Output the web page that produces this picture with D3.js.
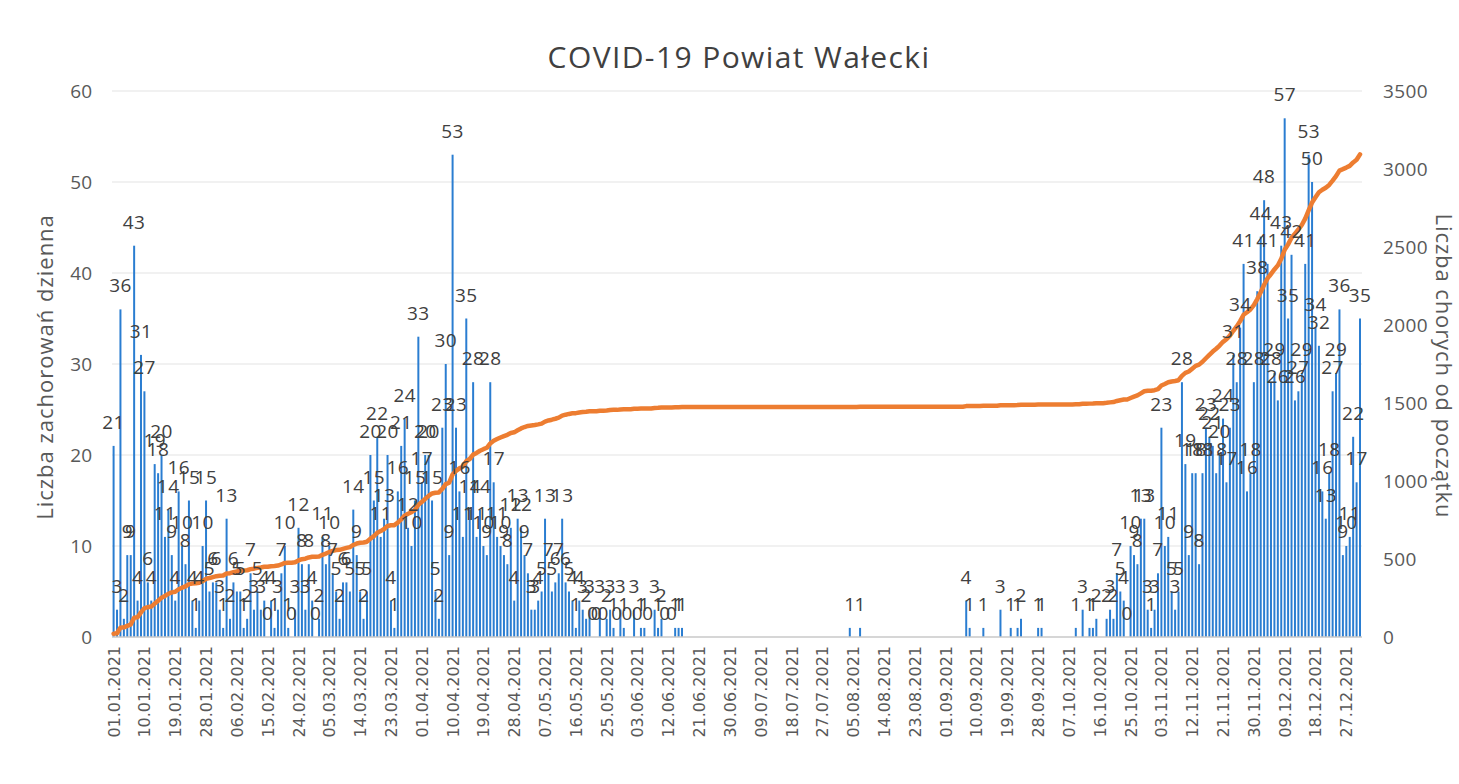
<!DOCTYPE html>
<html>
<head>
<meta charset="utf-8">
<script src="https://cdn.jsdelivr.net/npm/d3@7"></script>
<style>
  body { margin: 0; background: #fff; }
  svg { display: block; }
</style>
</head>
<body>
<svg id="chart" width="1459" height="784"></svg>
<script>
// daily new cases per month, null = no data that day
const _ = null;
const jan = [21, 3, 36, 2, 9, 9, 43, 4, 31, 27, 6, 4, 19, 18, 20, 11, 14, 9, 4, 16, 10, 8, 15, 4, 1, 4, 10, 15, 5, 6, 6];
const feb = [3, 1, 13, 2, 6, 5, 5, 1, 2, 7, 3, 5, 3, 4, 0, 4, 1, 3, 7, 10, 1, 0, 3, 12, 8, 3, 8, 4];
const mar = [0, 2, 11, 8, 10, 7, 5, 2, 6, 6, 5, 14, 9, 5, 2, 5, 20, 15, 22, 11, 13, 20, 4, 1, 16, 21, 24, 12, 10, 15, 33];
const apr = [17, 20, 20, 15, 5, 2, 23, 30, 9, 53, 23, 16, 11, 35, 14, 28, 11, 14, 10, 9, 28, 17, 11, 10, 9, 8, 12, 4, 13, 12];
const may = [9, 7, 3, 3, 4, 5, 13, 7, 5, 6, 7, 13, 6, 5, 4, 1, 4, 3, 2, 3, 0, 0, 3, 0, 2, 3, 1, 0, 3, 1, 0];
const jun = [_, 3, 0, 1, 1, 0, _, 3, 1, 2, 0, _, 0, 1, 1, 1, _, _, _, _, _, _, _, _, _, _, _, _, _, _];
const jul = [_, _, _, _, _, _, _, _, _, _, _, _, _, _, _, _, _, _, _, _, _, _, _, _, _, _, _, _, _, _, _];
const aug = [_, _, _, 1, _, _, 1, _, _, _, _, _, _, _, _, _, _, _, _, _, _, _, _, _, _, _, _, _, _, _, _];
const sep = [_, _, _, _, _, _, 4, 1, _, _, _, 1, _, _, _, _, 3, _, _, 1, _, 1, 2, _, _, _, _, 1, 1, _];
const oct = [_, _, _, _, _, _, _, _, 1, _, 3, _, 1, 1, 2, _, _, 2, 3, 2, 7, 5, 4, 0, 10, 9, 8, 13, 13, 3, 1];
const nov = [3, 7, 23, 10, 11, 5, 3, 5, 28, 19, 9, 18, 18, 8, 18, 23, 22, 21, 18, 20, 24, 17, 23, 31, 28, 34, 41, 16, 18, 28];
const dec = [38, 44, 48, 41, 28, 29, 26, 43, 57, 35, 42, 26, 27, 29, 41, 53, 50, 34, 32, 16, 13, 18, 27, 29, 36, 9, 10, 11, 22, 17, 35];

const leftTicks = [0, 10, 20, 30, 40, 50, 60];
const rightTicks = [0, 500, 1000, 1500, 2000, 2500, 3000, 3500];

const title = "COVID-19 Powiat Wałecki";
const leftTitle = "Liczba zachorowań dzienna";
const rightTitle = "Liczba chorych od początku";

const daily = [jan, feb, mar, apr, may, jun, jul, aug, sep, oct, nov, dec].flat();
const days = d3.timeDays(new Date(2021, 0, 1), new Date(2022, 0, 1));
const fmt = d3.timeFormat("%d.%m.%Y");
const cumulative = Array.from(d3.cumsum(daily, v => v == null ? 0 : v));

const svg = d3.select("#chart");
const textColor = "#404040";
const font = "Open Sans, sans-serif";

const x = d3.scaleBand()
  .domain(d3.range(days.length))
  .range([112.6, 1361])
  .paddingInner(0.42);

const yL = d3.scaleLinear().domain([0, 60]).range([637, 91]);
const yR = d3.scaleLinear().domain([0, 3500]).range([637, 91]);

// gridlines
svg.append("g")
  .selectAll("line")
  .data(leftTicks.slice(1))
  .enter()
  .append("line")
  .attr("x1", 112)
  .attr("x2", 1362)
  .attr("y1", d => yL(d))
  .attr("y2", d => yL(d))
  .attr("stroke", "#e3e3e3")
  .attr("stroke-width", 1);

// bars
svg.append("g")
  .selectAll("rect")
  .data(daily.map((v, i) => ({ v, i })).filter(d => d.v != null && d.v > 0))
  .enter()
  .append("rect")
  .attr("x", d => x(d.i))
  .attr("y", d => yL(d.v))
  .attr("width", x.bandwidth())
  .attr("height", d => yL(0) - yL(d.v))
  .attr("fill", "#2a7dd1");

// baseline
svg.append("line")
  .attr("x1", 112).attr("x2", 1362)
  .attr("y1", yL(0)).attr("y2", yL(0))
  .attr("stroke", "#c9c9c9")
  .attr("stroke-width", 1.5);

// cumulative line
const line = d3.line()
  .x((d, i) => x(i) + x.bandwidth() / 2)
  .y(d => yR(d));

svg.append("path")
  .datum(cumulative)
  .attr("d", line)
  .attr("fill", "none")
  .attr("stroke", "#ED7D31")
  .attr("stroke-width", 4.5)
  .attr("stroke-linejoin", "round")
  .attr("stroke-linecap", "round");

// data labels
svg.append("g")
  .selectAll("text")
  .data(daily.map((v, i) => ({ v, i })).filter(d => d.v != null))
  .enter()
  .append("text")
  .attr("x", d => x(d.i) + x.bandwidth() / 2)
  .attr("y", d => yL(d.v) - 17)
  .attr("text-anchor", "middle")
  .attr("font-family", font)
  .attr("font-size", 19)
  .attr("letter-spacing", 0.4)
  .attr("fill", textColor)
  .text(d => d.v);

// left axis labels
svg.append("g")
  .selectAll("text")
  .data(leftTicks)
  .enter()
  .append("text")
  .attr("x", 92)
  .attr("y", d => yL(d) + 7)
  .attr("text-anchor", "end")
  .attr("font-family", font)
  .attr("font-size", 19)
  .attr("fill", "#595959")
  .text(d => d);

// right axis labels
svg.append("g")
  .selectAll("text")
  .data(rightTicks)
  .enter()
  .append("text")
  .attr("x", 1383)
  .attr("y", d => yR(d) + 7)
  .attr("text-anchor", "start")
  .attr("font-family", font)
  .attr("font-size", 19)
  .attr("letter-spacing", 0.4)
  .attr("fill", "#595959")
  .text(d => d);

// x tick labels, every 9th day
const tickIdx = d3.range(0, days.length, 9);
svg.append("g")
  .selectAll("text")
  .data(tickIdx)
  .enter()
  .append("text")
  .attr("transform", i => `translate(${x(i) + x.bandwidth() / 2 + 6},646) rotate(-90)`)
  .attr("text-anchor", "end")
  .attr("font-family", "DejaVu Sans, sans-serif")
  .attr("font-size", 16)
  .attr("fill", "#595959")
  .text(i => fmt(days[i]));

// titles
svg.append("text")
  .attr("x", 739)
  .attr("y", 68)
  .attr("text-anchor", "middle")
  .attr("font-family", font)
  .attr("font-size", 30)
  .attr("letter-spacing", 1.4)
  .attr("fill", textColor)
  .text(title);

svg.append("text")
  .attr("transform", "translate(53,367) rotate(-90)")
  .attr("text-anchor", "middle")
  .attr("font-family", font)
  .attr("font-size", 22)
  .attr("letter-spacing", 1)
  .attr("fill", "#595959")
  .text(leftTitle);

svg.append("text")
  .attr("transform", "translate(1436,366) rotate(90)")
  .attr("text-anchor", "middle")
  .attr("font-family", font)
  .attr("font-size", 22)
  .attr("letter-spacing", 0.9)
  .attr("fill", "#595959")
  .text(rightTitle);
</script>
</body>
</html>
